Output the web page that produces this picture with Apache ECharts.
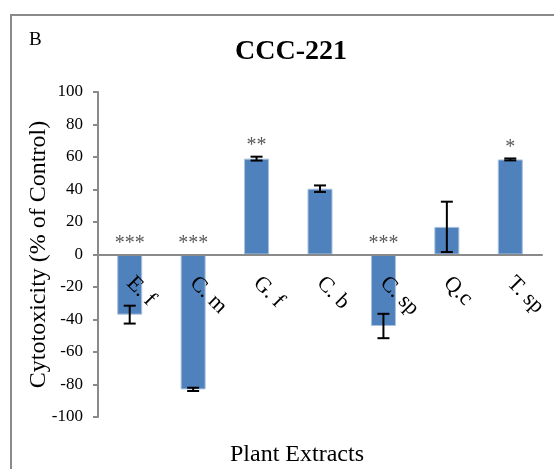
<!DOCTYPE html>
<html>
<head>
<meta charset="utf-8">
<script src="https://cdn.jsdelivr.net/npm/echarts@6/dist/echarts.min.js"></script>
<style>html,body{margin:0;padding:0;background:#fff;}#c{width:554px;height:469px;}</style>
</head>
<body>
<div id="c"></div>
<script>
const categories = ['E. f', 'C. m', 'G. f', 'C. b', 'C. sp', 'Q.c', 'T. sp'];
const values = [-37, -83, 59, 40.5, -44, 17, 58.5];
const errors = [5.5, 1, 1.2, 2, 7.5, 15.5, 0.6];
const stars = ['***', '***', '**', '', '***', '', '*'];
const yMin = -100, yMax = 100, yStep = 20;

const FONT = '"Liberation Serif", "Times New Roman", serif';
const chart = echarts.init(document.getElementById('c'), null, {renderer: 'canvas'});

chart.setOption({
  animation: false,
  backgroundColor: '#fff',
  textStyle: {fontFamily: FONT},
  title: [
    {text: 'CCC-221', left: 230, top: 33, textStyle: {fontFamily: FONT, fontSize: 28, fontWeight: 'bold', color: '#000'}},
    {text: 'B', left: 24, top: 26, textStyle: {fontFamily: FONT, fontSize: 19, fontWeight: 'normal', color: '#000'}}
  ],
  graphic: [{
    type: 'rect', silent: true, z: -1,
    shape: {x: 11, y: 15, width: 600, height: 500},
    style: {fill: 'none', stroke: '#8a8a8a', lineWidth: 2}
  }],
  grid: {left: 98, right: 12, top: 92, bottom: 52, containLabel: false, outerBoundsMode: 'none'},
  xAxis: {
    type: 'category',
    data: categories,
    z: 10,
    name: 'Plant Extracts',
    nameLocation: 'middle',
    nameGap: 26,
    nameMoveOverlap: false,
    nameTextStyle: {fontFamily: FONT, fontSize: 24, color: '#000', padding: [0, 46, 0, 0]},
    axisLine: {onZero: true, lineStyle: {color: '#8a8a8a', width: 2}},
    axisTick: {show: false},
    axisLabel: {rotate: -45, margin: -137, fontFamily: FONT, fontSize: 22, color: '#000'}
  },
  yAxis: {
    type: 'value',
    min: yMin, max: yMax, interval: yStep,
    name: 'Cytotoxicity (% of Control)',
    nameLocation: 'middle',
    nameGap: 47,
    nameMoveOverlap: false,
    nameTextStyle: {fontFamily: FONT, fontSize: 24, color: '#000'},
    splitLine: {show: false},
    axisLine: {show: true, lineStyle: {color: '#8a8a8a', width: 2}},
    axisTick: {show: true, inside: false, length: 5, lineStyle: {color: '#8a8a8a', width: 2}},
    axisLabel: {fontFamily: FONT, fontSize: 17, color: '#000', margin: 15}
  },
  series: [
    {
      type: 'bar',
      data: values,
      barWidth: 25,
      itemStyle: {color: '#4F81BD', borderColor: '#A9C1DE', borderWidth: 1},
      z: 2
    },
    {
      type: 'custom',
      z: 5,
      data: values.map((v, i) => [i, v, errors[i]]),
      renderItem: function (params, api) {
        const i = api.value(0), v = api.value(1), e = api.value(2);
        const top = api.coord([i, v + e]);
        const bot = api.coord([i, v - e]);
        const hw = 6;
        return {
          type: 'group',
          children: [
            {type: 'line', shape: {x1: top[0], y1: top[1], x2: bot[0], y2: bot[1]}, style: {stroke: '#000', lineWidth: 2}},
            {type: 'line', shape: {x1: top[0] - hw, y1: top[1], x2: top[0] + hw, y2: top[1]}, style: {stroke: '#000', lineWidth: 2}},
            {type: 'line', shape: {x1: bot[0] - hw, y1: bot[1], x2: bot[0] + hw, y2: bot[1]}, style: {stroke: '#000', lineWidth: 2}}
          ]
        };
      }
    },
    {
      type: 'custom',
      z: 6,
      data: values.map((v, i) => [i, Math.max(0, v + errors[i]), stars[i]]),
      renderItem: function (params, api) {
        const i = api.value(0);
        const p = api.coord([i, api.value(1)]);
        return {
          type: 'text',
          style: {
            text: stars[i], x: p[0], y: p[1] - 1,
            align: 'center', verticalAlign: 'bottom',
            font: '20px ' + FONT, fill: '#595959'
          }
        };
      }
    }
  ]
});
</script>
</body>
</html>
